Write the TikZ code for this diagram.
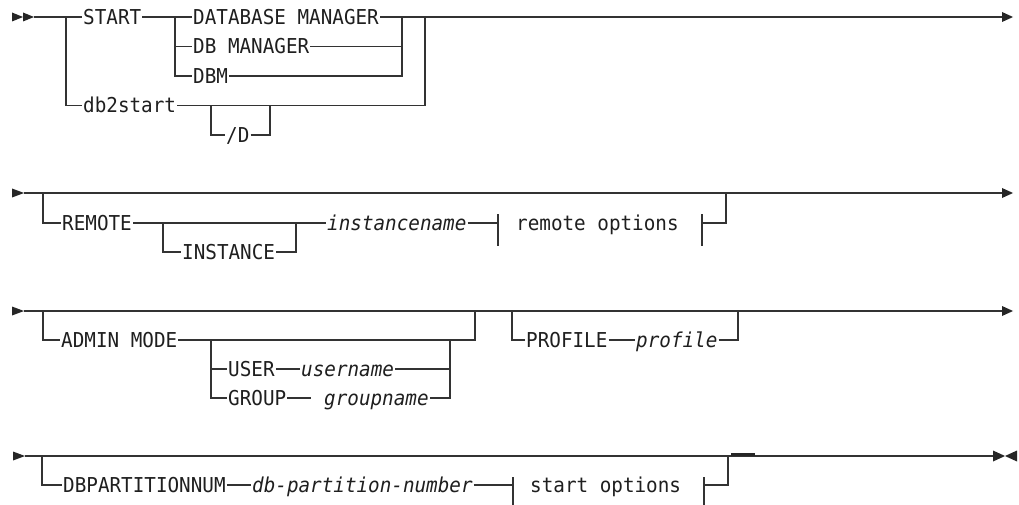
\documentclass[tikz,border=0pt]{standalone}
\usepackage{fontspec}
\newfontfamily\dgfont[FakeStretch=0.94]{DejaVu Sans Mono}
\tikzset{
  rail/.style={line width=1.2pt, draw=black!80},
  kw/.style={font=\dgfont\fontsize{20.5}{24}\selectfont, text=black!88, inner xsep=1pt, inner ysep=0pt, text height=15pt, text depth=0pt, anchor=west},
  var/.style={kw, font=\dgfont\itshape\fontsize{20.5}{24}\selectfont},
  tip/.style={fill=black!85},
  stub/.style={line width=2.6pt, draw=black!85}
}
\begin{document}
\begin{tikzpicture}[x=1pt,y=-1pt]
\path[use as bounding box, fill=white] (0,0) rectangle (1019,505);

% ---------------- Row 1 ----------------
\fill[tip] (12,12.5) -- (23,17) -- (12,21.5) -- cycle;
\fill[tip] (23,12.5) -- (34,17) -- (23,21.5) -- cycle;
\coordinate (r1s) at (34,17);
\coordinate (r1b) at (66,17);
\coordinate (r1c) at (175,17);
\coordinate (r1j) at (402,17);
\coordinate (r1k) at (425,17);
\coordinate (r1e) at (1002,17);
\coordinate (r1d1) at (211,105.5);
\coordinate (r1d2) at (270,105.5);
\node[kw] (start) at (82,17) {START};
\node[kw] (dbmgr1) at (192,17) {DATABASE MANAGER};
\node[kw] (dbmgr2) at (192,46.5) {DB MANAGER};
\node[kw] (dbm) at (192,76) {DBM};
\node[kw] (db2s) at (82,105.5) {db2start};
\node[kw] (slashd) at (225,135) {/D};
\draw[rail] (r1s) -- (start.west);
\draw[rail] (r1b) |- (db2s.west);
\draw[rail] (start.east) -- (dbmgr1.west);
\draw[rail] (r1c) |- (dbmgr2.west);
\draw[rail] (r1c) |- (dbm.west);
\draw[rail] (dbmgr1.east) -- (r1e);
\draw[rail] (dbmgr2.east) -| (r1j);
\draw[rail] (dbm.east) -| (r1j);
\draw[rail] (db2s.east) -| (r1k);
\draw[rail] (r1d1) |- (slashd.west);
\draw[rail] (slashd.east) -| (r1d2);
\fill[tip] (1002,12) -- (1013,17) -- (1002,22) -- cycle;

% ---------------- Row 2 ----------------
\fill[tip] (12,188.5) -- (24,193) -- (12,197.5) -- cycle;
\coordinate (r2s) at (24,193);
\coordinate (r2b) at (43,193);
\coordinate (r2e) at (1002,193);
\coordinate (r2i1) at (163,223);
\coordinate (r2i2) at (296,223);
\coordinate (r2p1) at (498,223);
\coordinate (r2p2) at (702,223);
\coordinate (r2k) at (726,193);
\node[kw] (remote) at (61,223) {REMOTE};
\node[kw] (instance) at (181,252) {INSTANCE};
\node[var] (iname) at (326,223) {instancename};
\node[kw] (ropt) at (515,223) {remote options};
\draw[rail] (r2s) -- (r2e);
\draw[rail] (r2b) |- (remote.west);
\draw[rail] (remote.east) -- (iname.west);
\draw[rail] (r2i1) |- (instance.west);
\draw[rail] (instance.east) -| (r2i2);
\draw[rail] (iname.east) -- (r2p1);
\draw[rail] (498,214) -- (498,246);
\draw[rail] (702,214) -- (702,246);
\draw[rail] (r2p2) -| (r2k);
\fill[tip] (1002,188) -- (1013,193) -- (1002,198) -- cycle;

% ---------------- Row 3 ----------------
\fill[tip] (12,306.5) -- (24,311) -- (12,315.5) -- cycle;
\coordinate (r3s) at (24,311);
\coordinate (r3b) at (43,311);
\coordinate (r3e) at (1002,311);
\coordinate (r3k) at (475,311);
\coordinate (r3c) at (211,340);
\coordinate (r3j) at (450,340);
\coordinate (r3g) at (311,398);
\coordinate (r3p1) at (512,311);
\coordinate (r3p2) at (738,311);
\node[kw] (admin) at (60,340) {ADMIN MODE};
\node[kw] (user) at (227,369) {USER};
\node[var] (uname) at (300,369) {username};
\node[kw] (group) at (227,398) {GROUP};
\node[var] (gname) at (323,398) {groupname};
\node[kw] (prof) at (525,340) {PROFILE};
\node[var] (profv) at (635,340) {profile};
\draw[rail] (r3s) -- (r3e);
\draw[rail] (r3b) |- (admin.west);
\draw[rail] (admin.east) -| (r3k);
\draw[rail] (r3c) |- (user.west);
\draw[rail] (r3c) |- (group.west);
\draw[rail] (user.east) -- (uname.west);
\draw[rail] (uname.east) -| (r3j);
\draw[rail] (group.east) -- (r3g);
\draw[rail] (gname.east) -| (r3j);
\draw[rail] (r3p1) |- (prof.west);
\draw[rail] (prof.east) -- (profv.west);
\draw[rail] (profv.east) -| (r3p2);
\fill[tip] (1002,306) -- (1013,311) -- (1002,316) -- cycle;

% ---------------- Row 4 ----------------
\fill[tip] (13,451.5) -- (25,456) -- (13,460.5) -- cycle;
\coordinate (r4s) at (25,456);
\coordinate (r4b) at (42,456);
\coordinate (r4e) at (994,456);
\coordinate (r4p1) at (513,485);
\coordinate (r4p2) at (704,485);
\coordinate (r4k) at (728,456);
\node[kw] (dbp) at (62,485) {DBPARTITIONNUM};
\node[var] (dbpn) at (251,485) {db-partition-number};
\node[kw] (sopt) at (529,485) {start options};
\draw[rail] (r4s) -- (r4e);
\draw[rail] (r4b) |- (dbp.west);
\draw[rail] (dbp.east) -- (dbpn.west);
\draw[rail] (dbpn.east) -- (r4p1);
\draw[rail] (513,477) -- (513,509);
\draw[rail] (704,477) -- (704,509);
\draw[rail] (r4p2) -| (r4k);
\draw[stub] (731,454.6) -- (755,454.6);
\fill[tip] (993,450.5) -- (1005,456) -- (993,461.5) -- cycle;
\fill[tip] (1017,450.5) -- (1005,456) -- (1017,461.5) -- cycle;
\end{tikzpicture}
\end{document}
